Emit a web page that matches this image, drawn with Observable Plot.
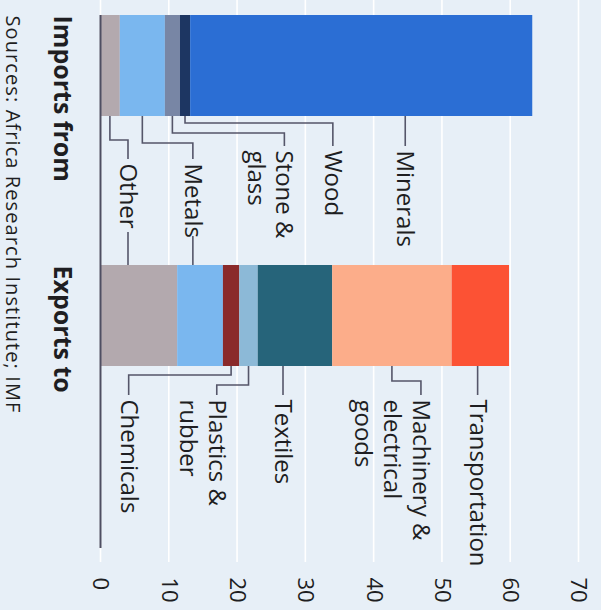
<!DOCTYPE html>
<html>
<head>
<meta charset="utf-8">
<script src="https://cdn.jsdelivr.net/npm/d3@7"></script>
<script src="https://cdn.jsdelivr.net/npm/@observablehq/plot@0.6"></script>
<style>
  html, body { margin: 0; padding: 0; background: #e7eff7; }
  #chart { width: 601px; height: 610px; overflow: hidden; }
</style>
</head>
<body>
<div id="chart"></div>
<script>
// ---------------- data ----------------
const bars = ["Imports from", "Exports to"];

const importCategories = ["Other", "Metals", "Stone & glass", "Wood", "Minerals"];
const importValues = [2.9, 6.6, 2.2, 1.5, 50.1];

const exportCategories = ["Other", "Metals", "Chemicals", "Plastics & rubber", "Textiles",
  "Machinery & electrical goods", "Transportation"];
const exportValues = [11.3, 6.7, 2.4, 2.7, 10.9, 17.5, 8.4];

const xTicks = [0, 10, 20, 30, 40, 50, 60, 70];
const sourceNote = "Sources: Africa Research Institute; IMF";

// ---------------- styles ----------------
const categories = ["Other", "Metals", "Stone & glass", "Wood", "Minerals", "Chemicals",
  "Plastics & rubber", "Textiles", "Machinery & electrical goods", "Transportation"];
const categoryColors = ["#b3a9ae", "#7ab7ef", "#7886a5", "#1d3662", "#2b6ed4", "#8a2a2b",
  "#8cb9d7", "#26647a", "#fcad8a", "#fc5234"];
const BG = "#e7eff7";
const INK = "#1e1e22";
const LEADER = "#55566a";

// ---------------- layout ----------------
const W = 601, H = 610;
const M = {top: 15, right: 23, bottom: 40, left: 100};
const PAD_IN = 0.598, PAD_OUT = 0.405;
const step = (H - M.top - M.bottom) / (bars.length - PAD_IN + 2 * PAD_OUT);
const bw = step * (1 - PAD_IN);

// annotation layout: label x in value units; kink/start in px below the bar
const labelLayout = [
  {text: "Other", bar: "Imports from", category: "Other", x: 4.1, kink: 24, start: 47, joinFrom: 116},
  {text: "Metals", bar: "Imports from", category: "Metals", x: 13.6, kink: 27, start: 47, joinFrom: 120},
  {text: "Stone &\nglass", bar: "Imports from", category: "Stone & glass", x: 27.0, kink: 17, start: 34},
  {text: "Wood", bar: "Imports from", category: "Wood", x: 34.1, kink: 7, start: 34},
  {text: "Minerals", bar: "Imports from", category: "Minerals", x: 44.7, kink: null, start: 34},
  {text: "Chemicals", bar: "Exports to", category: "Chemicals", x: 4.2, kink: 9, start: 33},
  {text: "Plastics &\nrubber", bar: "Exports to", category: "Plastics & rubber", x: 17.1, kink: 19, start: 33},
  {text: "Textiles", bar: "Exports to", category: "Textiles", x: 26.8, kink: null, start: 33},
  {text: "Machinery &\nelectrical\ngoods", bar: "Exports to", category: "Machinery & electrical goods", x: 47.0, kink: 15, start: 33},
  {text: "Transportation", bar: "Exports to", category: "Transportation", x: 55.3, kink: null, start: 33}
];

// ---------------- table ----------------
const rows = [
  ...importCategories.map((c, i) => ({bar: bars[0], category: c, value: importValues[i]})),
  ...exportCategories.map((c, i) => ({bar: bars[1], category: c, value: exportValues[i]}))
];
const mids = new Map();
for (const b of bars) {
  let acc = 0;
  for (const r of rows.filter((r) => r.bar === b)) {
    mids.set(b + "|" + r.category, acc + r.value / 2);
    acc += r.value;
  }
}

// leader lines drawn with the plot's own scales
function leaders(index, scales) {
  const {x, y} = scales;
  const band = y.bandwidth();
  const g = d3.create("svg:g")
    .attr("fill", "none")
    .attr("stroke", LEADER)
    .attr("stroke-width", 1.6);
  for (const l of labelLayout) {
    const top = y(l.bar), bottom = top + band;
    const lx = x(l.x);
    const end = bottom + l.start - 4;
    let d;
    if (l.kink == null) d = `M${lx},${bottom}V${end}`;
    else {
      const sx = x(mids.get(l.bar + "|" + l.category));
      d = `M${sx},${bottom}V${bottom + l.kink}H${lx}V${end}`;
    }
    g.append("path").attr("d", d);
    if (l.joinFrom != null) {
      const other = bars.find((b) => b !== l.bar);
      g.append("path").attr("d", `M${lx},${bottom + l.joinFrom}V${y(other)}`);
    }
  }
  return g.node();
}

const labelMarks = labelLayout.map((l) =>
  Plot.text([l], {
    x: "x", y: "bar", text: "text",
    rotate: 90, textAnchor: "start", lineAnchor: "top", lineHeight: 1.2,
    dx: 12, dy: bw / 2 + l.start,
    fontSize: 24, fill: INK
  })
);

const chart = Plot.plot({
  width: W, height: H,
  marginTop: M.top, marginRight: M.right, marginBottom: M.bottom, marginLeft: M.left,
  style: {background: BG, fontFamily: "'Open Sans', sans-serif", color: INK, overflow: "visible"},
  x: {domain: [0, 70], axis: null},
  y: {domain: bars, axis: null, paddingInner: PAD_IN, paddingOuter: PAD_OUT, align: 0},
  color: {domain: categories, range: categoryColors},
  marks: [
    Plot.gridX(xTicks, {stroke: "white", strokeOpacity: 1, strokeWidth: 1.6, insetTop: -M.top, insetBottom: 8}),
    Plot.barX(rows, Plot.stackX({x: "value", y: "bar", fill: "category"})),
    Plot.ruleX([0], {stroke: "#4e4e62", strokeWidth: 2, insetBottom: 22}),
    leaders,
    ...labelMarks,
    Plot.text(bars, {
      y: (d) => d, text: (d) => d, frameAnchor: "left", dx: -39, dy: -bw / 2,
      rotate: 90, textAnchor: "start", lineAnchor: "middle", fontWeight: "bold", fontSize: 25, fill: INK
    }),
    Plot.text([sourceNote], {
      text: (d) => d, frameAnchor: "top-left", dx: -88,
      rotate: 90, textAnchor: "start", lineAnchor: "middle", fontSize: 20, fill: INK
    }),
    Plot.axisX({
      ticks: xTicks, anchor: "bottom", tickRotate: 90, tickSize: 0, tickPadding: 7,
      fontSize: 22, tickFormat: (d) => String(d), fill: INK
    })
  ]
});

// widen the source line's tracking to match the reference typeface
for (const t of chart.querySelectorAll("text")) {
  if (t.textContent === sourceNote) t.setAttribute("letter-spacing", "1.1");
}

document.getElementById("chart").appendChild(chart);
</script>
</body>
</html>
